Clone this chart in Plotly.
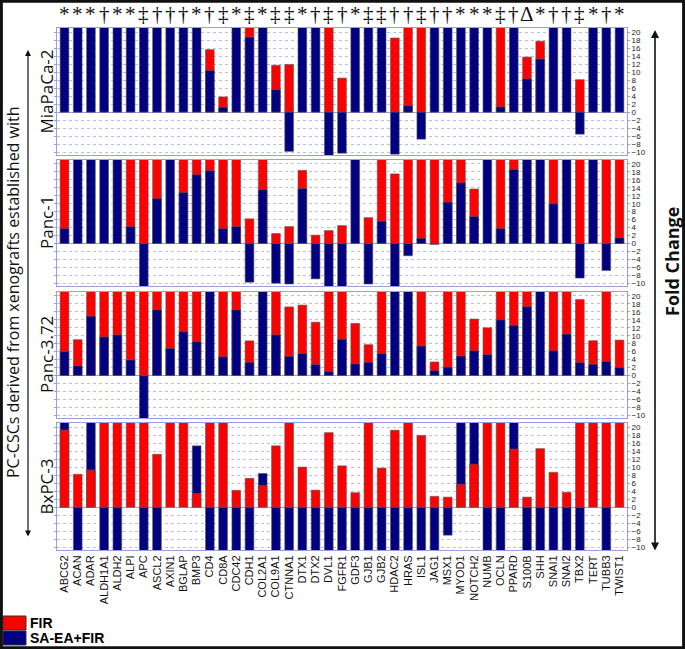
import plotly.graph_objects as go

genes = ["ABCG2","ACAN","ADAR","ALDH1A1","ALDH2","ALPI","APC","ASCL2","AXIN1","BGLAP",
         "BMP3","CD4","CD8A","CDC42","CDH1","COL2A1","COL9A1","CTNNA1","DTX1","DTX2",
         "DVL1","FGFR1","GDF3","GJB1","GJB2","HDAC2","HRAS","ISL1","JAG1","MSX1",
         "MYOD1","NOTCH2","NUMB","OCLN","PPARD","S100B","SHH","SNAI1","SNAI2","TBX2",
         "TERT","TUBB3","TWIST1"]

marks = ["*","*","*","†","*","*","‡","†","†","†",
         "*","†","‡","*","‡","*","‡","‡","*","†",
         "‡","†","*","‡","‡","†","†","‡","†","†",
         "*","*","*","‡","†","Δ","*","†","†","‡",
         "*","†","*"]

cell_lines = ["MiaPaCa-2", "Panc-1", "Panc-3.72", "BxPC-3"]

# values above 21 or below -10.7 are off the scale (bars clipped at the panel edge)
N = None
mia_fir = [N,N,N,N,N,N,N,N,N,N,N,15.6,3.8,N,25,N,11.7,11.9,N,N,
           25,8.5,N,N,N,18.5,25,25,N,N,N,N,N,25,N,13.75,17.7,N,N,8.1,N,N,N]
mia_sa  = [25,25,25,25,25,25,25,25,25,25,25,10.4,1.2,25,18.7,25,5.6,-9.8,25,25,
           -11,-10.25,25,25,25,-10.5,1.6,-6.75,25,25,25,25,25,1.3,25,8.3,13.25,25,25,-5.5,25,25,25]

panc1_fir = [25,N,N,N,N,25,25,25,N,25,25,25,25,25,6.2,25,2.5,4.25,18.4,2.1,
             3.25,4.5,N,6.5,25,17.5,25,25,25,25,25,13.7,N,25,25,N,N,25,N,25,N,25,25]
panc1_sa  = [3.75,25,25,25,25,4.25,-11,11.3,25,12.8,17.3,18.3,3.75,4.25,-9.75,13.5,-10,-10.2,13.8,-8.9,
             -11,-11,25,-10.2,5.6,-11,-3.1,1.3,-0.25,10.4,15.25,6.75,25,3.75,18.6,25,25,10,25,-8.7,25,-6.8,1.4]

panc372_fir = [25,9,25,25,25,25,25,25,25,25,25,N,25,25,8.7,N,25,17.25,17.7,13.4,
               25,25,13.1,7.75,25,N,N,25,3.4,25,25,14.2,12,25,25,25,N,25,25,19.1,8.75,25,8.9]
panc372_sa  = [6,2.4,14.9,9.7,10.2,3.9,-11,16.5,6.8,11,8.5,25,4.7,16.5,3.3,25,10.2,4.8,5.5,2.75,
               1,9.1,2.9,3.3,5.5,25,25,7.4,1.2,2.1,4.9,6.2,5.25,14,12.6,17.3,25,6.2,10.4,3.25,2.8,3.5,2]

bx_fir = [19.25,8.2,9.25,25,25,25,25,13.2,25,25,3.4,25,25,4.2,7.2,5.4,15.3,25,10,4.25,
          18.6,10.3,3.6,25,9.75,19.2,25,17.9,2.7,2.5,5.7,10.7,25,25,14.5,2.5,14.6,8.7,3.7,25,25,25,25]
bx_sa  = [25,-11,25,-11,-11,N,-11,-11,N,N,15.3,-11,-11,-11,-11,8.4,-11,-11,-11,-11,
          -11,-11,-11,-11,-11,-11,-11,-11,-11,-7,25,25,-11,-11,25,-11,-11,-11,-11,-11,N,-11,N]

panels = [(mia_fir, mia_sa, False), (panc1_fir, panc1_sa, False),
          (panc372_fir, panc372_sa, False), (bx_fir, bx_sa, True)]

W, H = 685, 649
def py(p):
    return 1 - p / H
def px(p):
    return p / W

panel_px = [(28, 155), (160, 286), (292, 418), (423, 550)]
RED = "#ff0000"
BLUE = "#000080"
GRID = "#bcbce8"
BORDER = "#9c9ce0"

fig = go.Figure()
for i, (fir, sa, red_front) in enumerate(panels):
    ax = "" if i == 0 else str(i + 1)
    red = go.Bar(x=genes, y=fir, marker=dict(color=RED, line=dict(color="#5a5a5a", width=0.6)),
                 width=0.66, name="FIR", showlegend=False, xaxis="x" + ax, yaxis="y" + ax)
    blue = go.Bar(x=genes, y=sa, marker=dict(color=BLUE, line=dict(color="#5a5a5a", width=0.6)),
                  width=0.66, name="SA-EA+FIR", showlegend=False, xaxis="x" + ax, yaxis="y" + ax)
    if red_front:
        fig.add_trace(blue); fig.add_trace(red)
    else:
        fig.add_trace(red); fig.add_trace(blue)

layout = dict(width=W, height=H, margin=dict(l=0, r=0, t=0, b=0, autoexpand=False),
              paper_bgcolor="white", plot_bgcolor="white", barmode="overlay",
              showlegend=False)
for i in range(4):
    ax = "" if i == 0 else str(i + 1)
    top, bot = panel_px[i]
    xa = dict(domain=[px(57), px(627)], anchor="y" + ax, automargin=False,
              showticklabels=(i == 3), tickangle=-90,
              tickfont=dict(family="Liberation Sans", size=11, color="#111"),
              showline=True, linecolor=BORDER, linewidth=1, mirror=True,
              showgrid=False, ticks="", categoryorder="array", categoryarray=genes)
    if i > 0:
        xa["matches"] = "x"
    layout["xaxis" + ax] = xa
    layout["yaxis" + ax] = dict(domain=[py(bot), py(top)], anchor="x" + ax, side="right",
                                automargin=False,
                                range=[-10.7, 21], tickvals=list(range(-10, 21, 2)),
                                tickfont=dict(family="Liberation Sans", size=8, color="#222"),
                                showline=True, linecolor=BORDER, linewidth=1, mirror="ticks",
                                ticks="outside", ticklen=2, tickcolor=BORDER,
                                showgrid=True, gridcolor=GRID, griddash="dot", gridwidth=1,
                                zeroline=True, zerolinecolor=BORDER, zerolinewidth=1)
fig.update_layout(**layout)

ann = []
for g, m in zip(genes, marks):
    ann.append(dict(x=g, y=py(28), xref="x", yref="paper", text=m, showarrow=False,
                    xanchor="center", yanchor="bottom",
                    font=dict(family="Liberation Serif", size=21, color="#111")))
for i, name in enumerate(cell_lines):
    top, bot = panel_px[i]
    ann.append(dict(x=px(46), y=py((top + bot) / 2), xref="paper", yref="paper", text=name,
                    textangle=-90, showarrow=False, xanchor="center", yanchor="middle",
                    font=dict(family="Open Sans", size=17, color="#111")))
ann.append(dict(x=px(13), y=py(292), xref="paper", yref="paper",
                text="PC-CSCs derived from xenografts established with", textangle=-90,
                showarrow=False, xanchor="center", yanchor="middle",
                font=dict(family="Open Sans", size=16, color="#111")))
ann.append(dict(x=px(672), y=py(262), xref="paper", yref="paper", text="Fold Change",
                textangle=-90, showarrow=False, xanchor="center", yanchor="middle",
                font=dict(family="Open Sans", size=18, color="#111", weight="bold")))
# double arrows
ann.append(dict(x=px(28), y=py(50), xref="paper", yref="paper", ax=0, ay=488,
                text="", showarrow=True, arrowhead=2,
                arrowside="end+start", arrowwidth=1.2, arrowsize=1, arrowcolor="#111"))
ann.append(dict(x=px(655), y=py(30), xref="paper", yref="paper", ax=0, ay=522,
                text="", showarrow=True, arrowhead=2,
                arrowside="end+start", arrowwidth=1.6, arrowsize=1, arrowcolor="#111"))
# legend
ann.append(dict(x=px(28), y=py(623), xref="paper", yref="paper", text="<b>FIR</b>",
                xanchor="left", yanchor="middle", showarrow=False,
                font=dict(family="Liberation Sans", size=14, color="#000")))
ann.append(dict(x=px(28), y=py(638), xref="paper", yref="paper", text="<b>SA-EA+FIR</b>",
                xanchor="left", yanchor="middle", showarrow=False,
                font=dict(family="Liberation Sans", size=14, color="#000")))
fig.update_layout(annotations=ann)

shapes = [
    dict(type="rect", xref="paper", yref="paper", x0=px(3), x1=px(26), y0=py(630), y1=py(616),
         fillcolor=RED, line=dict(color="#333", width=1)),
    dict(type="rect", xref="paper", yref="paper", x0=px(3), x1=px(26), y0=py(645), y1=py(631),
         fillcolor=BLUE, line=dict(color="#333", width=1)),
    dict(type="rect", xref="paper", yref="paper", x0=0.002, x1=0.998, y0=0.002, y1=0.998,
         line=dict(color="#111", width=3)),
]
fig.update_layout(shapes=shapes)

fig.write_html("out.html", config={"displayModeBar": False},
               post_script="document.body.style.margin='0';document.body.style.overflow='hidden';")
